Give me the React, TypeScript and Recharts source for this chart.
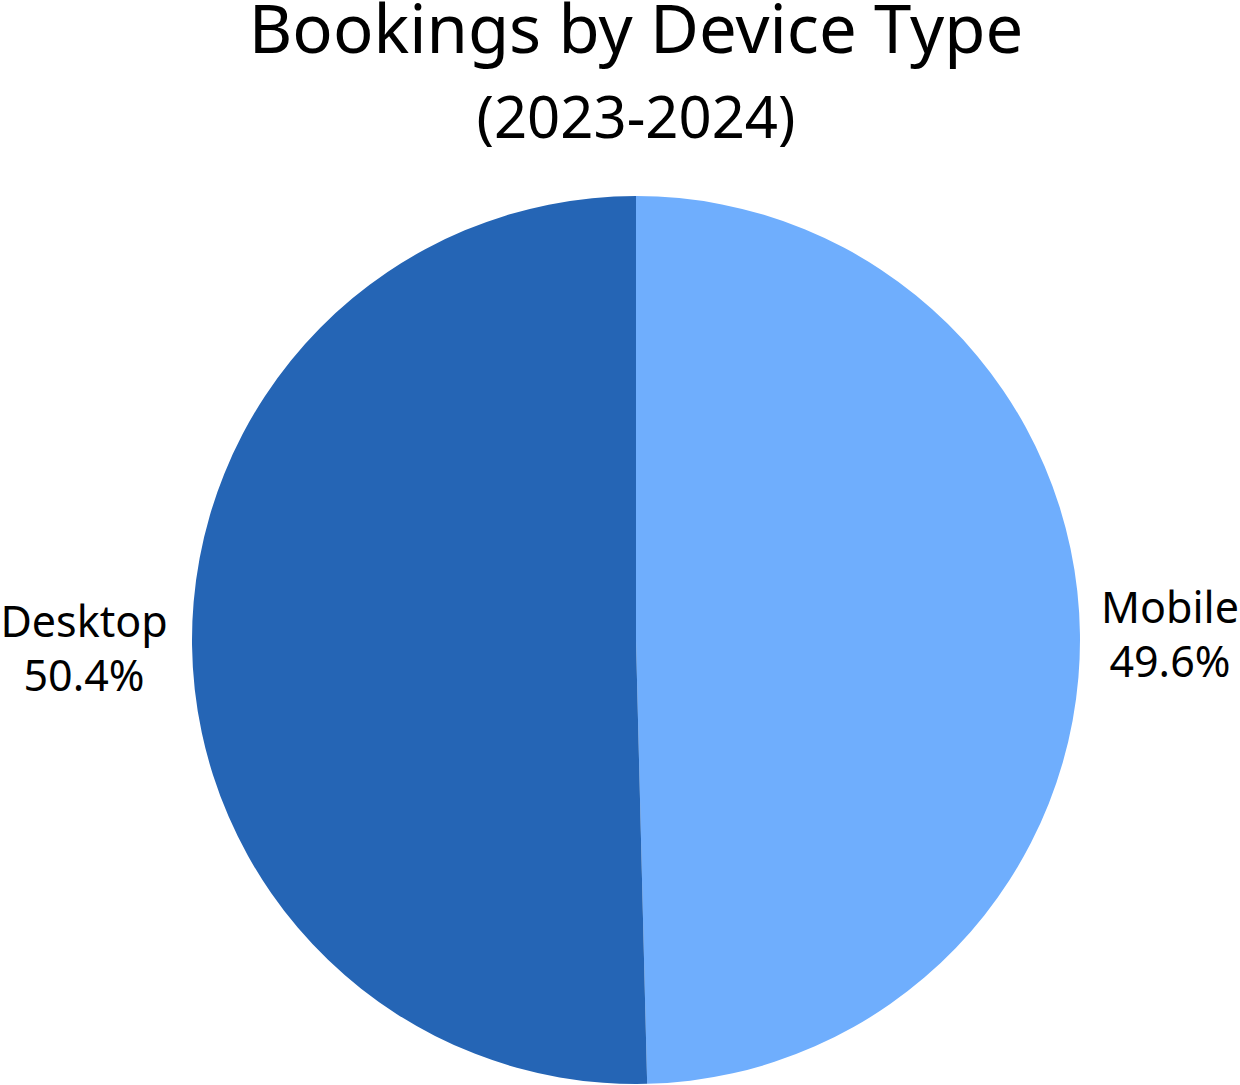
import { PieChart, Pie, Cell } from 'recharts'

const devices = ['Mobile', 'Desktop']
const shares = [49.6, 50.4]
const sliceColors = ['#6FAEFD', '#2565B5']

const W = 1240
const H = 1085
const FONT = '"Noto Sans", sans-serif'

const data = devices.map((name, i) => ({ name, value: shares[i] }))

const RAD = Math.PI / 180

function renderLabel(props: any) {
  const { cx, cy, midAngle, outerRadius, index } = props
  const cos = Math.cos(-midAngle * RAD)
  const sin = Math.sin(-midAngle * RAD)
  const r = outerRadius + (cos >= 0 ? 90 : 108)
  const x = cx + r * cos
  const y = cy + r * sin
  const d = data[index]
  return (
    <text x={x} y={y} textAnchor="middle" fill="#000" fontFamily={FONT} fontSize={43}>
      <tspan x={x} dy={-10}>{d.name}</tspan>
      <tspan x={x} dy={54}>{d.value.toFixed(1)}%</tspan>
    </text>
  )
}

export default function App() {
  return (
    <div style={{ position: 'absolute', left: 0, top: 0, width: W, height: H, background: '#fff' }}>
      <PieChart width={W} height={H} margin={{ top: 0, right: 0, bottom: 0, left: 0 }}>
        <text x={636} y={53} textAnchor="middle" fontFamily={FONT} fontSize={67} fill="#000">
          Bookings by Device Type
        </text>
        <text x={636} y={138} textAnchor="middle" fontFamily={FONT} fontSize={58} fill="#000">
          (2023-2024)
        </text>
        <Pie
          data={data}
          dataKey="value"
          nameKey="name"
          cx={636}
          cy={640}
          outerRadius={444}
          startAngle={90}
          endAngle={-270}
          stroke="none"
          label={renderLabel}
          labelLine={false}
          isAnimationActive={false}
        >
          {data.map((d, i) => (
            <Cell key={d.name} fill={sliceColors[i]} />
          ))}
        </Pie>
      </PieChart>
    </div>
  )
}
